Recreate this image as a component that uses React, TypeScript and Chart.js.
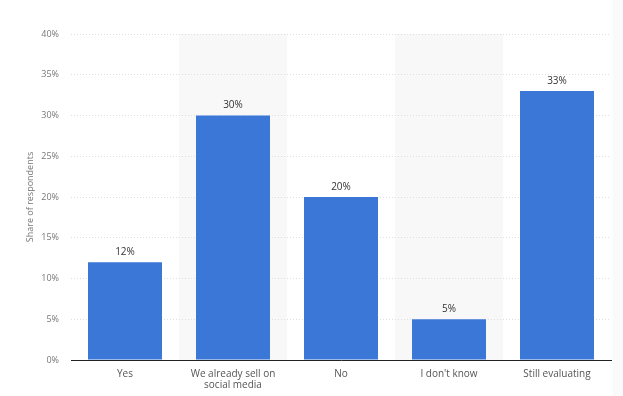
import React, { useEffect, useRef } from "react";
import { Chart, registerables } from "chart.js";

Chart.register(...registerables);

const categories: (string | string[])[] = [
  "Yes",
  ["We already sell on", "social media"],
  "No",
  "I don't know",
  "Still evaluating",
];
const shares = [12, 30, 20, 5, 33];
const yTicks = [0, 5, 10, 15, 20, 25, 30, 35, 40];
const shadedIndices = [1, 3];

const FONT = "'Open Sans', 'DejaVu Sans', sans-serif";

const bandsPlugin = {
  id: "bands",
  beforeDraw(chart: any) {
    const { ctx, chartArea, scales } = chart;
    const x = scales.x;
    ctx.save();
    ctx.fillStyle = "#f8f8f8";
    shadedIndices.forEach((i) => {
      const c = x.getPixelForValue(i);
      const w = (chartArea.right - chartArea.left) / categories.length;
      ctx.fillRect(c - w / 2, chartArea.top, w, chartArea.bottom - chartArea.top);
    });
    ctx.restore();
  },
};

const labelsPlugin = {
  id: "valueLabels",
  afterDatasetsDraw(chart: any) {
    const { ctx } = chart;
    const meta = chart.getDatasetMeta(0);
    ctx.save();
    ctx.fillStyle = "#333333";
    ctx.font = `500 10px ${FONT}`;
    ctx.textAlign = "center";
    ctx.textBaseline = "middle";
    meta.data.forEach((bar: any, i: number) => {
      ctx.fillText(shares[i] + "%", bar.x, bar.y - 10);
    });
    ctx.restore();
  },
};

export default function App() {
  const ref = useRef<HTMLCanvasElement>(null);
  useEffect(() => {
    if (!ref.current) return;
    const chart = new Chart(ref.current, {
      type: "bar",
      data: {
        labels: categories,
        datasets: [
          {
            data: shares,
            backgroundColor: "#3b77d7",
            barPercentage: 0.685,
            categoryPercentage: 1,
          },
        ],
      },
      options: {
        animation: false,
        responsive: false,
        maintainAspectRatio: false,
        layout: { padding: { left: 0, right: 12, top: 34, bottom: 0 } },
        plugins: { legend: { display: false }, tooltip: { enabled: false } },
        scales: {
          x: {
            grid: { display: false, drawTicks: false },
            border: { display: true, color: "#222222", width: 1 },
            ticks: {
              color: "#555555",
              font: { family: FONT, size: 10, lineHeight: 1.05 },
              padding: 9,
              maxRotation: 0,
              autoSkip: false,
            },
            afterFit(scale: any) {
              scale.height = 36;
            },
          },
          y: {
            min: 0,
            max: 40,
            afterBuildTicks(scale: any) {
              scale.ticks = yTicks.map((v) => ({ value: v }));
            },
            grid: {
              color: "#dedede",
              drawTicks: false,
            },
            border: { display: false, dash: [1, 2] },
            ticks: {
              color: "#777777",
              font: { family: FONT, size: 9 },
              padding: 12,
              callback: (v: any) => v + "%",
            },
            title: {
              display: true,
              text: "Share of respondents",
              color: "#777777",
              font: { family: FONT, size: 9 },
              padding: { top: 25, bottom: 0 },
            },
            afterFit(scale: any) {
              scale.width = 71;
            },
          },
        },
      },
      plugins: [bandsPlugin, labelsPlugin],
    } as any);
    return () => chart.destroy();
  }, []);
  return (
    <div style={{ position: "fixed", left: 0, top: 0, width: 623, height: 396, background: "#fff" }}>
      <canvas ref={ref} width={623} height={396} style={{ width: 623, height: 396, display: "block" }} />
      <div style={{ position: "absolute", right: 0, top: 0, width: 10, height: 396, background: "#fafafa" }} />
    </div>
  );
}
